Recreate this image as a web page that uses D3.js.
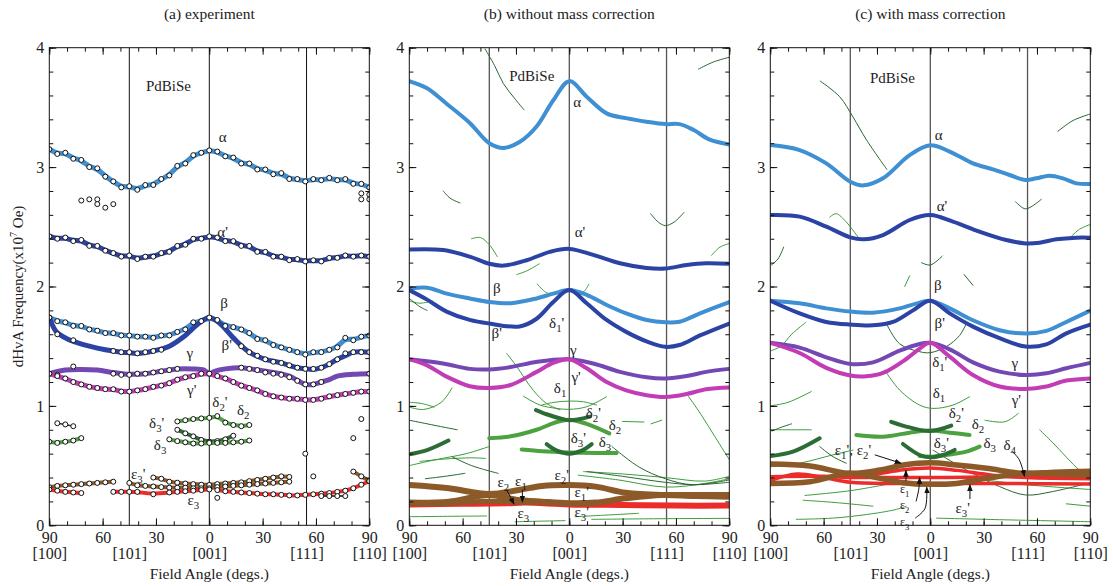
<!DOCTYPE html>
<html>
<head>
<meta charset="utf-8">
<script src="https://cdn.jsdelivr.net/npm/d3@7"></script>
<style>
body { margin: 0; background: #fff; }
text { font-family: "Liberation Serif", "Times New Roman", Times, "DejaVu Serif", serif; fill: #222; }
</style>
</head>
<body>
<script>
// ---------- data (angle: negative = [100]->[001] side, positive = [001]->[110] side; F in 10^7 Oe) ----------

// (a) experiment : measured angles and branches
var aGrid = [-90,-85.5,-81,-76.5,-72,-67.5,-63,-58.5,-54,-49.5,-45,-40.5,-36,-31.5,-27,-22.5,-18,-13.5,-9,-4.5,
             0,4.5,9,13.5,18,22.5,27,31.5,36,40.5,45,49.5,54,58.5,63,67.5,72,76.5,81,85.5,90];
var alphaExp = [3.15,3.11,3.12,3.07,3.06,3.00,2.99,2.92,2.88,2.83,2.84,2.81,2.85,2.85,2.90,2.93,3.01,3.03,3.10,3.12,
                3.14,3.13,3.09,3.08,3.03,3.03,2.98,2.98,2.94,2.95,2.90,2.90,2.88,2.90,2.89,2.91,2.89,2.90,2.86,2.86,2.83];
var alphaPExp = [2.42,2.40,2.41,2.38,2.39,2.34,2.34,2.30,2.28,2.25,2.26,2.23,2.25,2.25,2.28,2.29,2.34,2.35,2.40,2.40,
                 2.42,2.41,2.38,2.38,2.34,2.34,2.29,2.29,2.25,2.25,2.22,2.23,2.21,2.22,2.21,2.24,2.24,2.26,2.25,2.26,2.25];
var betaExp = [1.74,1.71,1.70,1.67,1.67,1.64,1.63,1.61,1.61,1.59,1.59,1.58,1.58,1.57,1.59,1.59,1.62,1.64,1.70,1.71,
               1.74,1.72,1.67,1.66,1.64,1.61,1.56,1.55,1.51,1.49,1.47,1.45,1.43,1.45,1.45,1.47,1.49,1.57,1.55,1.58,1.59];
var betaPExp = [1.74,1.60,null,1.55,null,null,null,null,1.46,1.45,1.45,1.44,1.45,1.46,1.47,null,null,null,null,null,
                null,null,null,null,1.50,1.45,1.42,1.39,1.37,1.36,1.34,1.32,1.31,1.31,1.32,1.35,1.39,1.44,1.45,1.45,1.45];
var gammaExp = [1.27,1.26,null,1.33,null,null,null,null,1.27,1.26,1.26,1.27,1.27,1.28,1.29,1.30,1.31,null,null,null,
                1.27,null,null,null,1.32,1.31,1.30,1.28,1.27,1.26,1.24,1.21,1.18,1.18,1.20,null,null,null,null,null,1.27];
var gammaPExp = [1.27,1.25,1.23,1.20,1.18,1.16,1.15,1.14,1.14,1.12,1.12,1.13,1.14,1.16,1.17,1.19,1.22,1.24,1.25,1.27,
                 1.27,1.25,1.23,1.20,1.17,1.15,1.13,1.10,1.08,1.07,1.06,1.06,1.05,1.05,1.06,1.08,1.09,1.10,1.11,1.12,1.12];
var betaPFitA = [[-90,1.74],[-86,1.62],[-81,1.57],[-76.5,1.54],[-67.5,1.50],[-58.5,1.47],[-49.5,1.45],[-45,1.445],[-40.5,1.44],
                 [-31.5,1.46],[-22.5,1.50],[-13.5,1.59],[-6,1.69],[0,1.74],[6,1.69],[13.5,1.57],[22.5,1.45],[31.5,1.39],
                 [40.5,1.36],[49.5,1.32],[54,1.31],[58.5,1.305],[63,1.32],[67.5,1.35],[72,1.39],[76.5,1.42],[81,1.45],[90,1.45]];
var gammaFitA = [[-90,1.27],[-81,1.30],[-72,1.305],[-63,1.30],[-54,1.28],[-45,1.265],[-36,1.27],[-27,1.29],[-18,1.31],[-9,1.31],
                 [-3,1.30],[0,1.27],[3,1.29],[9,1.31],[18,1.32],[27,1.30],[36,1.28],[45,1.25],[50,1.21],[54,1.18],[58.5,1.18],
                 [63,1.20],[67.5,1.22],[72,1.25],[81,1.265],[90,1.27]];
var delta2pExp = [[-18,0.87],[-13.5,0.88],[-9,0.89],[-4.5,0.895],[0,0.90],[4.5,0.915],[9,0.86],[13.5,0.84],[18,0.83],[22.5,0.84]];
var delta3pExp = [[-18,0.80],[-13.5,0.77],[-9,0.745],[-4.5,0.715],[0,0.70],[4.5,0.705],[9,0.72],[13.5,0.75]];
var delta3Exp = [[-22.5,0.72],[-18,0.705],[-13.5,0.695],[-9,0.685],[-4.5,0.685],[0,0.69],[4.5,0.69],[9,0.69],[13.5,0.695],[18,0.70],[22.5,0.71]];
var deltaLeftUpExp = [[-85.5,0.855],[-81,0.845],[-76.5,0.83]];
var deltaLeftLoExp = [[-90,0.70],[-85.5,0.69],[-81,0.70],[-76.5,0.71],[-72,0.73]];
var epsBrownLeftExp = [[-90,0.32],[-85.5,0.33],[-81,0.335],[-76.5,0.34],[-72,0.345],[-67.5,0.35],[-63,0.355],[-58.5,0.36],[-54,0.365]];
var epsBrownUpExp = [[-31.5,0.40],[-27,0.39],[-22.5,0.365],[-18,0.357],[-13.5,0.35],[-9,0.345],[-4.5,0.34],[0,0.338],[4.5,0.345],
                     [9,0.35],[13.5,0.355],[18,0.36],[22.5,0.37],[27,0.38],[31.5,0.39],[36,0.40],[40.5,0.41],[45,0.405]];
var epsBrownLoExp = [[-45,0.355],[-40.5,0.335],[-36,0.33],[-31.5,0.325],[-27,0.32],[-22.5,0.315],[-18,0.315],[-13.5,0.315],[-9,0.31],
                     [-4.5,0.31],[0,0.31],[4.5,0.32],[9,0.325],[13.5,0.33],[18,0.335],[22.5,0.34],[27,0.345],[31.5,0.35],[36,0.355],[40.5,0.36],[45,0.365]];
var epsBrownRightExp = [[81,0.45],[85.5,0.41],[90,0.37]];
var epsRedLeftExp = [[-90,0.30],[-85.5,0.29],[-81,0.28],[-76.5,0.275],[-72,0.27]];
var epsRedMidExp = [[-54,0.28],[-49.5,0.28],[-45,0.28],[-40.5,0.28],[-31.5,0.26],[-22.5,0.275],[-18,0.28],[-13.5,0.285],[-9,0.29],[-4.5,0.295],[0,0.30]];
var epsRedRightExp = [[4.5,0.295],[9,0.285],[13.5,0.28],[18,0.275],[22.5,0.27],[27,0.265],[31.5,0.26],[36,0.26],[40.5,0.255],[45,0.25],
                      [49.5,0.25],[54,0.255],[58.5,0.26],[63,0.265],[67.5,0.27],[72,0.28],[76.5,0.29],[81,0.31],[85.5,0.34],[90,0.37]];
var epsBlackExp = [[63,0.245],[67.5,0.245],[72,0.245],[76.5,0.245]];
var strayExp = [[4.5,0.23],[54,0.60],[58.5,0.41],[81,0.73],[85.5,0.89],[-72,2.72],[-67.5,2.73],[-63,2.73],[-63,2.69],
                [-58.5,2.66],[-54,2.69],[85.5,2.78],[85.5,2.73],[90,2.77],[90,2.73]];

// (b) without mass correction
var alphaB = [[-90,3.72],[-80,3.66],[-69,3.53],[-56,3.37],[-45,3.20],[-37,3.16],[-28,3.21],[-18.4,3.34],[-9,3.56],[0,3.72],[9.75,3.59],
              [21,3.45],[32,3.41],[43.5,3.38],[54,3.36],[62,3.36],[70,3.31],[79,3.23],[90,3.19]];
var alphaPB = [[-90,2.31],[-71,2.305],[-56,2.25],[-45,2.19],[-37,2.175],[-24,2.22],[-11,2.29],[0,2.315],[13.5,2.265],[28.5,2.195],
               [43.5,2.155],[54,2.15],[66,2.18],[77,2.195],[90,2.19]];
var betaB = [[-90,1.98],[-80,1.99],[-69,1.94],[-56,1.90],[-45,1.87],[-33,1.86],[-18.4,1.90],[-9,1.94],[0,1.97],[9.75,1.93],[21,1.845],
             [32,1.775],[43.5,1.72],[54,1.70],[62,1.705],[73.5,1.775],[90,1.87]];
var betaPB = [[-90,1.97],[-80,1.89],[-69,1.79],[-56,1.72],[-45,1.69],[-28,1.665],[-18.4,1.73],[-9,1.87],[0,1.97],[9.75,1.86],[21,1.72],
              [32,1.62],[43.5,1.54],[54,1.495],[62,1.51],[73.5,1.59],[90,1.69]];
var gammaB = [[-90,1.39],[-71,1.355],[-56,1.31],[-45,1.305],[-33,1.325],[-18,1.37],[0,1.39],[13.5,1.355],[28.5,1.285],[43.5,1.24],
              [54,1.23],[66,1.25],[77,1.285],[90,1.31]];
var gammaPB = [[-90,1.39],[-80,1.34],[-69,1.245],[-56,1.165],[-45,1.15],[-33,1.175],[-18.4,1.285],[-9,1.36],[0,1.39],[9.75,1.315],
               [21,1.20],[32,1.13],[43.5,1.09],[54,1.075],[66,1.10],[77,1.14],[90,1.155]];
var delta2pB = [[-18.75,0.965],[-12.75,0.93],[-5,0.895],[0,0.88],[6,0.89],[11.6,0.91]];
var delta2B = [[-45,0.73],[-33,0.745],[-18.4,0.80],[-7,0.865],[0,0.885],[9.75,0.85],[22.5,0.77]];
var delta3pB = [[-12.75,0.68],[-7,0.625],[0,0.60],[7,0.625],[12.6,0.68]];
var delta3B = [[-26.8,0.635],[-15,0.62],[0,0.61],[15,0.605],[26.6,0.605]];
var deltaLeftB = [[-90,0.595],[-80,0.63],[-68,0.71]];
var eps1B = [[-90,0.337],[-67.7,0.31],[-45.2,0.262],[-28.3,0.296],[-15.2,0.33],[0,0.337],[14.8,0.324],[31.7,0.273],[52.3,0.254],
             [70,0.254],[90,0.254]];
var eps2B = [[-90,0.19],[-67.7,0.198],[-45.2,0.254],[-30,0.215],[-15.2,0.198],[0,0.185],[14.8,0.19],[31.7,0.226],[52.3,0.254],
             [70,0.245],[90,0.24]];
var eps2bB = [[-90,0.18],[-67.7,0.185],[-50,0.2],[-35,0.2],[-20,0.19]];
var eps3B = [[-90,0.175],[-60,0.18],[-35,0.185],[-25,0.19],[0,0.175],[30,0.17],[60,0.165],[90,0.165]];
var thinMidB = [
  [[-55,2.40],[-50,2.41],[-45,2.35],[-40.5,2.25]],
  [[-29.6,2.10],[-24,2.13],[-16.9,2.19]],
  [[80,2.26],[84.75,2.33],[90,2.36]],
  [[-18,2.02],[-14,1.96],[-10,1.93]],
  [[6,1.93],[9,1.97],[11,2.02]],
  [[-90,1.88],[-84,1.86],[-77,1.88]],
  [[-15.6,1.007],[-9,1.029],[0,1.04],[7.9,1.035],[15.4,1.007]],
  [[-25.9,1.082],[-16.5,1.007],[-7.1,0.979],[0,0.971],[9.75,0.993],[21,1.077]],
  [[-35.25,1.44],[-29.6,1.33],[-20.25,1.13],[-12.75,1.02],[-5.25,0.966]],
  [[67,1.08],[74,0.93],[82,0.74],[90,0.55]],
  [[-90,1.03],[-83,1.02],[-76,0.99]],
  [[-90,0.99],[-82,0.97],[-72,1.03],[-66,1.15]],
  [[-90,0.50],[-75,0.55],[-58,0.60],[-45,0.66]],
  [[-84,0.535],[-70,0.555],[-55,0.565],[-47,0.56]],
  [[-90,0.072],[-70,0.075],[-46.5,0.078]],
  [[-30.5,0.03],[-15,0.035],[-2.4,0.039]],
  [[3.2,0.072],[20,0.085],[38.9,0.10]],
  [[12.6,0.05],[50,0.055],[90,0.058]],
  [[5,0.42],[27.6,0.38],[54,0.32],[76,0.35],[90,0.39]],
  [[8,0.45],[30,0.43],[54,0.40],[76,0.37],[90,0.41]],
  [[46,0.85],[52,0.88]],
  [[30,0.87],[42,0.865]]
];
var thinDarkB = [
  [[-47.4,3.99],[-42,3.85],[-37.1,3.70],[-31,3.58],[-25.5,3.48]],
  [[72.6,3.82],[81,3.88],[90,3.92]],
  [[-70.9,2.80],[-67.1,2.74],[-61.5,2.70]],
  [[45.75,2.61],[50,2.54],[54,2.51],[59,2.54],[64.5,2.62]],
  [[24,0.66],[39,0.49],[54,0.39],[69,0.34],[90,0.38]],
  [[-66,0.575],[-55,0.50],[-40,0.435]],
  [[-81,0.39],[-70,0.41],[-58.7,0.435]],
  [[-90,0.88],[-80,0.85],[-70,0.82],[-63,0.80]],
  [[-90,1.90],[-84,1.83],[-80,1.80]],
  [[10,0.45],[30,0.41],[54,0.36],[70,0.34],[90,0.36]]
];

// (c) with mass correction
var alphaC = [[-90,3.185],[-73.5,3.143],[-58.5,3.031],[-45,2.878],[-37.5,2.847],[-26.6,2.906],[-11.6,3.10],[0,3.182],[10.9,3.13],
              [24,3.031],[35.25,2.981],[44.6,2.934],[53.6,2.892],[59.6,2.906],[67.1,2.928],[74.6,2.906],[82.1,2.864],[90,2.858]];
var alphaPC = [[-90,2.598],[-73.5,2.585],[-58.5,2.501],[-45,2.412],[-37.5,2.395],[-26.6,2.431],[-11.6,2.557],[0,2.598],[12.75,2.543],
               [27.75,2.459],[42.75,2.389],[53.6,2.361],[61.5,2.367],[70.9,2.395],[82.1,2.409],[90,2.409]];
var betaC = [[-90,1.881],[-73.5,1.859],[-58.5,1.817],[-45,1.79],[-32.25,1.781],[-17.25,1.817],[-6,1.865],[0,1.881],[10.9,1.817],
             [24,1.717],[39,1.634],[53.6,1.606],[65.25,1.628],[76.5,1.703],[90,1.798]];
var betaPC = [[-90,1.881],[-73.5,1.775],[-58.5,1.703],[-45,1.681],[-32.25,1.675],[-21,1.703],[-9.75,1.80],[0,1.881],[10.9,1.775],
              [24,1.664],[39,1.567],[53.6,1.497],[65.25,1.516],[76.5,1.608],[90,1.681]];
var gammaC = [[-90,1.528],[-73.5,1.488],[-58.5,1.407],[-45,1.351],[-32.25,1.365],[-17.25,1.463],[-6,1.519],[0,1.528],[10.9,1.474],
              [24,1.365],[39,1.287],[53.6,1.259],[65.25,1.273],[76.5,1.315],[90,1.36]];
var gammaPC = [[-90,1.528],[-73.5,1.443],[-58.5,1.318],[-45,1.254],[-36,1.248],[-26.6,1.276],[-13.5,1.393],[-6,1.479],[0,1.528],
               [10.9,1.412],[24,1.259],[39,1.162],[53.6,1.142],[65.25,1.162],[76.5,1.212],[90,1.23]];
var delta2pC = [[-22,0.867],[-11.6,0.82],[0,0.79],[11.8,0.835]];
var delta2C = [[-41.6,0.756],[-26.6,0.742],[-11.6,0.776],[0,0.793],[10.9,0.776],[22.1,0.756]];
var delta3pC = [[-15.4,0.681],[-6,0.589],[0,0.569],[7.1,0.589],[13.7,0.631]];
var delta3C = [[-6,0.58],[1.5,0.575],[12.75,0.597],[20.25,0.617],[27.75,0.659]];
var deltaLeftC = [[-90,0.58],[-77.25,0.617],[-62.25,0.729]];
var eps1C = [[-90,0.513],[-67.7,0.497],[-45,0.435],[-28.3,0.463],[-15.2,0.505],[0,0.524],[14.8,0.505],[31.7,0.477],[52.3,0.435],
             [70,0.445],[90,0.452]];
var eps2C = [[-90,0.351],[-67.7,0.365],[-45,0.435],[-28.3,0.393],[-15.2,0.357],[0,0.343],[14.8,0.351],[31.7,0.393],[52.3,0.435],
             [70,0.43],[90,0.42]];
var red1C = [[-90,0.407],[-60,0.41],[-45,0.40],[-30,0.40],[0,0.40],[30,0.405],[54,0.41],[90,0.40]];
var red2C = [[-90,0.375],[-75,0.43],[-60,0.40],[-45,0.36],[-20,0.35],[0,0.35],[40,0.35],[90,0.345]];
var red3C = [[-45,0.40],[-30,0.43],[-15,0.465],[0,0.48],[15,0.46],[35,0.42],[54,0.40],[90,0.39]];
var thinMidC = [
  [[-56.6,2.58],[-53,2.61],[-47.25,2.54],[-40,2.40]],
  [[79.3,2.42],[84,2.48],[90,2.52]],
  [[-14.4,2.0],[-11.6,2.09]],
  [[-25.7,1.30],[-17.25,1.133],[-6,1.007],[1.5,0.979],[12.75,1.007],[22.1,1.077]],
  [[-90,1.0],[-80,1.03],[-67,1.12]],
  [[-90,0.80],[-78,0.80],[-67,0.80]],
  [[-90,0.49],[-73.5,0.52],[-54.75,0.59],[-43.5,0.63]],
  [[-71.6,0.21],[-52.9,0.19],[-32.25,0.16]],
  [[-75.4,0.05],[-55,0.06],[-36,0.09],[-20,0.13],[-13.5,0.16]],
  [[-70.5,0.25],[-45,0.29],[-21.75,0.35]],
  [[9,0.41],[39,0.365],[53.6,0.34],[90,0.30]],
  [[61.5,0.80],[69,0.69],[84,0.46],[90,0.40]],
  [[76.5,0.18],[90,0.16]],
  [[3.4,0.06],[39,0.047],[90,0.03]],
  [[30.75,0.88],[42,0.867],[49.5,0.937]],
  [[-90,1.46],[-84,1.50],[-78,1.60],[-70,1.70]]
];
var thinDarkC = [
  [[-61.9,3.72],[-51,3.59],[-43.5,3.42],[-36,3.23],[-24.4,2.98]],
  [[71.8,3.30],[80.25,3.39],[90,3.445]],
  [[48,2.71],[53.6,2.65],[62.4,2.73]],
  [[-89.4,2.18],[-85.7,2.23],[-82.5,2.33]],
  [[-5,2.2],[0,2.18],[6.75,2.255]],
  [[19,2.10],[24,2.01]],
  [[-24.75,1.69],[-17.25,1.52],[-6,1.454],[0,1.446],[9,1.496],[16.5,1.59],[20.25,1.69]],
  [[-62.25,0.66],[-54.75,0.575],[-47.25,0.52]],
  [[1.5,0.63],[20.25,0.463],[39,0.324],[53.6,0.254],[68.6,0.282],[90,0.357]],
  [[-89,0.79],[-84,0.82],[-78,0.85]]
];

// labels [text, angle, F]
var labelsA = [["PdBiSe",-23,3.68],["α",7.5,3.255],["α'",7.5,2.459],["β",8.3,1.86],["β'",9.8,1.51],["γ",-10.9,1.44],
               ["γ'",-9.9,1.133],["δ2'",6,1.035],["δ2",19.1,0.966],["δ3'",-29.6,0.855],["δ3",-27.7,0.675],
               ["ε3'",-40,0.427],["ε3",-9,0.212]];
var labelsB = [["PdBiSe",-21.1,3.76],["α",4.5,3.545],["α'",6,2.454],["β",-40.8,1.987],["β'",-40.8,1.608],["δ1'",-7.1,1.692],
               ["γ",2.2,1.468],["γ'",3.8,1.245],["δ1",-5.2,1.147],["δ2'",13.5,0.938],["δ2",25.7,0.84],["δ3'",5.1,0.729],
               ["δ3",20.1,0.70],["ε2",-37.1,0.365],["ε1",-27.2,0.371],["ε3",-25.9,0.10],["ε2'",-4.3,0.421],
               ["ε1'",7,0.281],["ε3'",7,0.114]];
var labelsC = [["PdBiSe",-21.3,3.744],["α",4.7,3.269],["α'",6.6,2.677],["β",4.3,2.013],["β'",5.3,1.692],["γ",47.5,1.362],
               ["δ1'",5.3,1.37],["δ1",4.9,1.106],["γ'",48.4,1.049],["δ2'",14.6,0.938],["δ2",26.8,0.846],["δ3'",6.2,0.687],
               ["δ3",33.4,0.687],["δ4",44.7,0.672],["ε1', ε2'",-43.5,0.63],["ε3'",18.2,0.145]];
var stackC = [["ε1",-14.4,0.31],["ε2",-14.4,0.175],["ε3",-14.4,0.04]];
var arrowsB = [[[-35.2,0.296],[-31.1,0.178]], [[-26.4,0.296],[-26.4,0.195]]];
var arrowsC = [[[-31.2,0.59],[-16.5,0.52]], [[-13.7,0.37],[-13.7,0.46]], [[-8,0.20],[-6.5,0.30],[-6,0.40]],
               [[-8.5,0.06],[-3,0.14],[-2,0.32]], [[22.3,0.22],[22.3,0.34]], [[46,0.62],[50,0.55],[53,0.41]]];

var titles = ["(a) experiment", "(b) without mass correction", "(c) with mass correction"];
var majorX = [-90,-60,-30,0,30,60,90];
var dirTicks = [-90,-45,0,54.7,90];
var dirNames = ["[100]","[101]","[001]","[111]","[110]"];

// ---------- layout ----------
var W = 320, H = 477.6, TOP = 47.7;
var panelX = [49.3, 409.3, 770.3];
var serif = '"Liberation Serif", "Times New Roman", Times, "DejaVu Serif", serif';
var C = { lblue: "#3f8fd3", dblue: "#2b43a5", purple: "#7448b3", magenta: "#c23cb6", green: "#4ba23e",
          dgreen: "#2c6c35", thinG: "#3c9c3c", thinD: "#2a6530", brown: "#8c5a28", red: "#ec2b2b" };

var x = d3.scaleLinear().domain([-90, 90]).range([0, W]);
var y = d3.scaleLinear().domain([0, 4]).range([H, 0]);

var svg = d3.select("body").append("svg").attr("width", 1113).attr("height", 586).attr("font-family", serif);

var defs = svg.append("defs");
defs.append("marker").attr("id", "arr").attr("viewBox", "0 0 10 10").attr("refX", 9).attr("refY", 5)
  .attr("markerWidth", 7).attr("markerHeight", 7).attr("orient", "auto-start-reverse")
  .append("path").attr("d", "M0,1 L10,5 L0,9 z").attr("fill", "#111");
defs.append("clipPath").attr("id", "clip").append("rect").attr("width", W).attr("height", H);

var basis = d3.line().x(function(d){ return x(d[0]); }).y(function(d){ return y(d[1]); }).curve(d3.curveBasis);
var smooth = d3.line().x(function(d){ return x(d[0]); }).y(function(d){ return y(d[1]); }).curve(d3.curveCatmullRom.alpha(0.5));
var straight = d3.line().x(function(d){ return x(d[0]); }).y(function(d){ return y(d[1]); });

function zip(vals) {
  return aGrid.map(function(a, i){ return [a, vals[i]]; }).filter(function(d){ return d[1] != null; });
}

function curve(g, data, color, width, gen) {
  g.append("path").datum(data).attr("d", gen || smooth).attr("fill", "none")
    .attr("stroke", color).attr("stroke-width", width).attr("stroke-linecap", "round").attr("stroke-linejoin", "round");
}

function thin(g, list, color) {
  list.forEach(function(seg){ curve(g, seg, color, 1, smooth); });
}

function dots(g, data) {
  g.selectAll(null).data(data).enter().append("circle")
    .attr("cx", function(d){ return x(d[0]); }).attr("cy", function(d){ return y(d[1]); })
    .attr("r", 2.5).attr("fill", "#fff").attr("stroke", "#111").attr("stroke-width", 1);
}

function greek(g, str, a, f, size) {
  size = size || 15;
  var t = g.append("text").attr("x", x(a)).attr("y", y(f) + 5).attr("text-anchor", "middle").attr("font-size", size);
  var sub = false;
  Array.from(str).forEach(function(ch){
    if (/[0-9]/.test(ch)) {
      t.append("tspan").attr("dy", sub ? 0 : 4).attr("font-size", size * 0.72).text(ch);
      sub = true;
    } else {
      t.append("tspan").attr("dy", sub ? -4 : 0).text(ch);
      sub = false;
    }
  });
}

function arrows(g, list) {
  list.forEach(function(a){
    g.append("path").datum(a).attr("d", a.length > 2 ? smooth : straight).attr("fill", "none")
      .attr("stroke", "#111").attr("stroke-width", 1).attr("marker-end", "url(#arr)");
  });
}

function styleAxis(sel) {
  sel.select(".domain").remove();
  sel.attr("font-family", serif).attr("font-size", 16);
  sel.selectAll("text").attr("fill", "#222");
  sel.selectAll("line").attr("stroke", "#111");
}

function makePanel(i) {
  var g = svg.append("g").attr("transform", "translate(" + panelX[i] + "," + TOP + ")");
  var plot = g.append("g").attr("clip-path", "url(#clip)");

  // crystal-direction guide lines
  plot.selectAll(null).data([-45, 0, 54.7]).enter().append("line")
    .attr("x1", function(d){ return x(d); }).attr("x2", function(d){ return x(d); })
    .attr("y1", 0).attr("y2", H)
    .attr("stroke", i === 0 ? "#111" : "#555").attr("stroke-width", i === 0 ? 1 : 1.3);

  // axes: inward ticks on all four sides
  var minorX = d3.range(-90, 91, 10), minorY = d3.range(0, 4.01, 0.2);
  g.append("g").attr("transform", "translate(0," + H + ")")
    .call(d3.axisBottom(x).tickValues(minorX).tickSizeInner(-4).tickSizeOuter(0).tickFormat("")).call(styleAxis);
  g.append("g").attr("transform", "translate(0," + H + ")")
    .call(d3.axisBottom(x).tickValues(majorX).tickSizeInner(-7).tickSizeOuter(0).tickPadding(6)
      .tickFormat(function(d){ return Math.abs(d); })).call(styleAxis);
  g.append("g").attr("transform", "translate(0," + H + ")")
    .call(d3.axisBottom(x).tickValues(dirTicks).tickSize(0).tickPadding(22)
      .tickFormat(function(d, k){ return dirNames[k]; })).call(styleAxis);
  g.append("g").call(d3.axisTop(x).tickValues(minorX).tickSizeInner(-4).tickSizeOuter(0).tickFormat("")).call(styleAxis);
  g.append("g").call(d3.axisTop(x).tickValues(majorX).tickSizeInner(-7).tickSizeOuter(0).tickFormat("")).call(styleAxis);
  g.append("g").call(d3.axisLeft(y).tickValues(minorY).tickSizeInner(-4).tickSizeOuter(0).tickFormat("")).call(styleAxis);
  g.append("g").call(d3.axisLeft(y).tickValues([0,1,2,3,4]).tickSizeInner(-7).tickSizeOuter(0).tickPadding(5)
    .tickFormat(d3.format("d"))).call(styleAxis);
  g.append("g").attr("transform", "translate(" + W + ",0)")
    .call(d3.axisRight(y).tickValues(minorY).tickSizeInner(-4).tickSizeOuter(0).tickFormat("")).call(styleAxis);
  g.append("g").attr("transform", "translate(" + W + ",0)")
    .call(d3.axisRight(y).tickValues([0,1,2,3,4]).tickSizeInner(-7).tickSizeOuter(0).tickFormat("")).call(styleAxis);

  g.append("rect").attr("width", W).attr("height", H).attr("fill", "none").attr("stroke", "#111").attr("stroke-width", 1);

  svg.append("text").attr("x", panelX[i] + W / 2).attr("y", 19).attr("text-anchor", "middle")
    .attr("font-size", 15.5).text(titles[i]);
  svg.append("text").attr("x", panelX[i] + W / 2).attr("y", 579).attr("text-anchor", "middle")
    .attr("font-size", 15.5).text("Field Angle (degs.)");

  return { g: g, plot: plot };
}

// ---------- panel (a) ----------
var pa = makePanel(0);
(function(p){
  curve(p, zip(alphaExp), C.lblue, 5, basis);
  curve(p, zip(alphaPExp), C.dblue, 5, basis);
  curve(p, zip(betaExp), C.lblue, 5, basis);
  curve(p, betaPFitA, C.dblue, 5, smooth);
  curve(p, gammaFitA, C.purple, 5, smooth);
  curve(p, zip(gammaPExp), C.magenta, 5, basis);
  curve(p, delta2pExp, C.green, 4, basis);
  curve(p, delta3pExp, C.dgreen, 4, basis);
  curve(p, delta3Exp, C.green, 4, basis);
  curve(p, deltaLeftUpExp, "#1f3d22", 1.5, straight);
  curve(p, deltaLeftLoExp, C.green, 4, basis);
  curve(p, epsBrownLeftExp, C.brown, 4, basis);
  curve(p, epsBrownUpExp, C.brown, 4, basis);
  curve(p, epsBrownLoExp, C.brown, 4, basis);
  curve(p, epsBrownRightExp, C.brown, 4, basis);
  curve(p, epsRedLeftExp, C.red, 4, basis);
  curve(p, epsRedMidExp, C.red, 4, basis);
  curve(p, epsRedRightExp, C.red, 4, basis);
  curve(p, epsBlackExp, "#111", 1.5, straight);
  [alphaExp, alphaPExp, betaExp, betaPExp, gammaExp, gammaPExp].forEach(function(s){ dots(p, zip(s)); });
  [delta2pExp, delta3pExp, delta3Exp, deltaLeftUpExp, deltaLeftLoExp, epsBrownLeftExp, epsBrownUpExp, epsBrownLoExp,
   epsBrownRightExp, epsRedLeftExp, epsRedMidExp, epsRedRightExp, epsBlackExp, strayExp].forEach(function(s){ dots(p, s); });
})(pa.plot);
labelsA.forEach(function(l){ greek(pa.g, l[0], l[1], l[2]); });

// y axis title
svg.append("text").attr("transform", "translate(23," + (TOP + H / 2) + ") rotate(-90)").attr("text-anchor", "middle")
  .attr("font-size", 15).call(function(t){
    t.append("tspan").text("dHvA Frequency(x10");
    t.append("tspan").attr("dy", -6).attr("font-size", 10).text("7");
    t.append("tspan").attr("dy", 6).text(" Oe)");
  });

// ---------- panel (b) ----------
var pb = makePanel(1);
(function(p){
  thin(p, thinMidB, C.thinG);
  thin(p, thinDarkB, C.thinD);
  curve(p, alphaB, C.lblue, 4);
  curve(p, alphaPB, C.dblue, 4);
  curve(p, betaB, C.lblue, 4);
  curve(p, betaPB, C.dblue, 4);
  curve(p, gammaB, C.purple, 4);
  curve(p, gammaPB, C.magenta, 4);
  curve(p, delta2B, C.green, 4);
  curve(p, delta2pB, C.dgreen, 4);
  curve(p, delta3B, C.green, 4);
  curve(p, delta3pB, C.dgreen, 4);
  curve(p, deltaLeftB, C.dgreen, 4);
  curve(p, eps3B, C.red, 6);
  curve(p, eps2bB, C.brown, 5);
  curve(p, eps1B, C.brown, 6);
  curve(p, eps2B, C.brown, 6);
})(pb.plot);
arrows(pb.g, arrowsB);
labelsB.forEach(function(l){ greek(pb.g, l[0], l[1], l[2]); });

// ---------- panel (c) ----------
var pc = makePanel(2);
(function(p){
  thin(p, thinMidC, C.thinG);
  thin(p, thinDarkC, C.thinD);
  curve(p, alphaC, C.lblue, 4);
  curve(p, alphaPC, C.dblue, 4);
  curve(p, betaC, C.lblue, 4);
  curve(p, betaPC, C.dblue, 4);
  curve(p, gammaC, C.purple, 4);
  curve(p, gammaPC, C.magenta, 4);
  curve(p, delta2C, C.green, 4);
  curve(p, delta2pC, C.dgreen, 4);
  curve(p, delta3C, C.green, 4);
  curve(p, delta3pC, C.dgreen, 4);
  curve(p, deltaLeftC, C.dgreen, 4);
  curve(p, red3C, C.red, 3.5);
  curve(p, red2C, C.red, 3.5);
  curve(p, red1C, C.red, 3.5);
  curve(p, eps2C, C.brown, 5.5);
  curve(p, eps1C, C.brown, 5.5);
})(pc.plot);
arrows(pc.g, arrowsC);
labelsC.forEach(function(l){ greek(pc.g, l[0], l[1], l[2]); });
stackC.forEach(function(l){ greek(pc.g, l[0], l[1], l[2], 12); });
</script>
</body>
</html>
